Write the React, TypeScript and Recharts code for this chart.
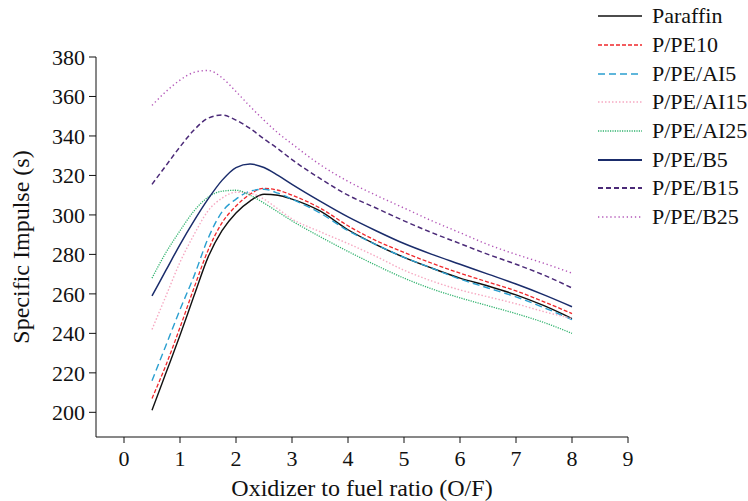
import React from "react";
import { LineChart, Line, XAxis, YAxis } from "recharts";

const xValues = [0.5, 0.75, 1, 1.25, 1.5, 1.75, 2, 2.25, 2.5, 2.75, 3, 3.5, 4, 4.5, 5, 5.5, 6, 6.5, 7, 7.5, 8];

const paraffin = [201, 220, 239, 259, 278.5, 292, 301, 307, 310.5, 310, 308, 302, 292.5, 285, 278.5, 273, 268, 264, 259.5, 254, 247.5];
const ppe10 = [207, 224, 243, 263, 282, 296, 304.5, 310.5, 313.5, 312.5, 310, 303.5, 294.5, 287, 281, 275.5, 270.5, 266, 261.5, 256, 250];
const ppeAl5 = [216, 234, 252, 269, 288, 301.5, 308, 312, 313, 311, 308, 301, 292, 285, 278.5, 273, 267.5, 263, 258.5, 253, 247];
const ppeAl15 = [242, 259, 276, 290, 302, 308.5, 311.5, 311, 308, 303, 298, 291.5, 285.5, 279, 272, 266.5, 262, 258.5, 255, 251, 247.5];
const ppeAl25 = [268, 281, 292, 302, 309, 312, 312.5, 310, 306, 301.5, 297, 289, 281.5, 274.5, 268, 262.5, 258, 254, 250, 245.5, 240];
const ppeB5 = [259, 272, 285, 297, 308, 317.5, 324, 325.8, 324, 320, 315.5, 307, 299, 292, 285.5, 280, 275, 270, 265, 259.5, 253.5];
const ppeB15 = [315.5, 325, 334.5, 343, 349, 350.6, 348, 343.8, 338.5, 333.5, 328, 318.5, 310, 303.5, 297, 291, 285.5, 280, 275, 269.5, 263];
const ppeB25 = [355.5, 362.5, 368.3, 372.2, 373.2, 369.5, 362.5, 355, 348, 341.5, 336, 325.5, 317, 310, 303.5, 297, 291, 285, 280, 275.5, 270.5];

const xTicks = [0, 1, 2, 3, 4, 5, 6, 7, 8, 9];
const yTicks = [200, 220, 240, 260, 280, 300, 320, 340, 360, 380];

const seriesNames = ["Paraffin", "P/PE10", "P/PE/AI5", "P/PE/AI15", "P/PE/AI25", "P/PE/B5", "P/PE/B15", "P/PE/B25"];
const seriesValues = [paraffin, ppe10, ppeAl5, ppeAl15, ppeAl25, ppeB5, ppeB15, ppeB25];

const styles = [
  { color: "#111111", dash: undefined as string | undefined, width: 1.4 },
  { color: "#f0272b", dash: "4 2", width: 1.3 },
  { color: "#2a9fd0", dash: "7 4", width: 1.4 },
  { color: "#f6a9c2", dash: "1.5 2", width: 1.4 },
  { color: "#32b36f", dash: "1.2 1.2", width: 1.3 },
  { color: "#1a2c6b", dash: undefined as string | undefined, width: 1.5 },
  { color: "#4b2a78", dash: "5 3", width: 1.5 },
  { color: "#b356b8", dash: "1.3 2.8", width: 1.4 },
];

const data = xValues.map((x, i) => {
  const row: Record<string, number> = { x };
  seriesNames.forEach((n, k) => {
    row[n] = seriesValues[k][i];
  });
  return row;
});

const FONT = "'Liberation Serif', 'Times New Roman', serif";

const LegendBox = () => (
  <div style={{ position: "absolute", left: 598, top: 2, width: 150, fontFamily: FONT }}>
    {seriesNames.map((n, k) => (
      <div key={n} style={{ display: "flex", alignItems: "center", height: 28.7 }}>
        <svg width={44} height={10} style={{ marginRight: 10, flex: "none" }}>
          <line x1={0} y1={5} x2={44} y2={5} stroke={styles[k].color} strokeWidth={styles[k].width + 0.3} strokeDasharray={styles[k].dash} />
        </svg>
        <span style={{ fontSize: 22, color: "#111", whiteSpace: "nowrap" }}>{n}</span>
      </div>
    ))}
  </div>
);

export default function App() {
  return (
    <div style={{ position: "absolute", left: 0, top: 0, width: 748, height: 501, background: "#fff" }}>
      <LineChart width={748} height={501} data={data} margin={{ top: 57, right: 120, bottom: 0, left: 0 }}>
        <XAxis
          dataKey="x"
          type="number"
          domain={[-0.5, 9]}
          ticks={xTicks}
          allowDataOverflow
          height={64}
          tickSize={6}
          tickMargin={7}
          stroke="#111"
          tick={{ fill: "#111", fontSize: 22, fontFamily: FONT }}
          label={{ value: "Oxidizer to fuel ratio (O/F)", position: "insideBottom", offset: 5, fill: "#111", fontSize: 24, fontFamily: FONT }}
        />
        <YAxis
          type="number"
          domain={[187.5, 380]}
          ticks={yTicks}
          allowDataOverflow
          width={96}
          tickSize={7}
          tickMargin={4}
          stroke="#111"
          tick={{ fill: "#111", fontSize: 22, fontFamily: FONT }}
          label={{ value: "Specific Impulse (s)", angle: -90, position: "insideLeft", offset: 20, style: { textAnchor: "middle" }, fill: "#111", fontSize: 24, fontFamily: FONT }}
        />
        {seriesNames.map((n, k) => (
          <Line
            key={n}
            dataKey={n}
            type="monotone"
            stroke={styles[k].color}
            strokeWidth={styles[k].width}
            strokeDasharray={styles[k].dash}
            dot={false}
            activeDot={false}
            isAnimationActive={false}
          />
        ))}
      </LineChart>
      <LegendBox />
    </div>
  );
}
